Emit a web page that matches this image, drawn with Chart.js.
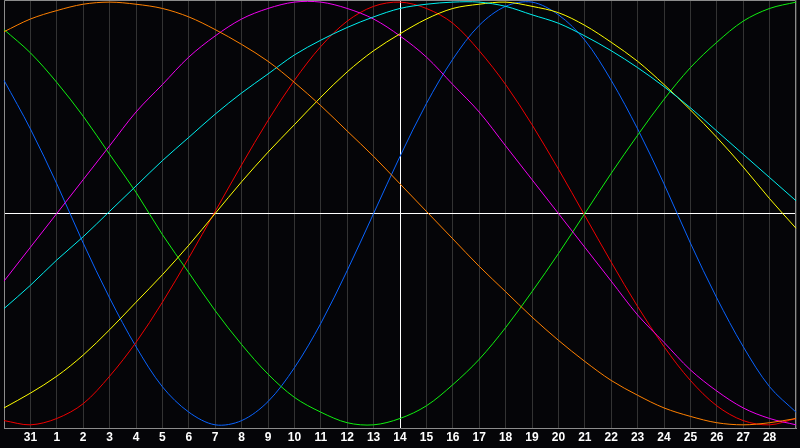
<!DOCTYPE html>
<html>
<head>
<meta charset="utf-8">
<script src="https://cdn.jsdelivr.net/npm/chart.js@4"></script>
<style>
  html, body { margin: 0; padding: 0; background: #050508; }
  canvas { display: block; }
</style>
</head>
<body>
<canvas id="myChart" width="800" height="448"></canvas>
<script>
// days shown on the x axis (first and last sit on the frame edges, unlabelled)
var days = ['30', '31', '1', '2', '3', '4', '5', '6', '7', '8', '9', '10', '11', '12', '13', '14',
            '15', '16', '17', '18', '19', '20', '21', '22', '23', '24', '25', '26', '27', '28', '29'];
var today = '14';

// cycle values in percent, one per day
var physical     = [63, 40, 14, -14, -40, -63, -82, -94, -100, -98, -89, -73, -52, -27, 0, 27, 52, 73, 89, 98, 100, 94, 82, 63, 40, 14, -14, -40, -63, -82, -94];
var emotional    = [-98, -100, -97, -90, -77, -61, -42, -21, 1, 23, 44, 63, 79, 91, 98, 100, 97, 90, 77, 61, 42, 21, -1, -23, -44, -63, -79, -91, -98, -100, -97];
var intellectual = [87, 76, 62, 46, 28, 10, -10, -28, -46, -62, -76, -87, -94, -99, -100, -97, -91, -81, -69, -54, -37, -19, 0, 19, 37, 54, 69, 81, 91, 97, 100];
var intuitive    = [-32, -16, 0, 16, 32, 48, 61, 74, 84, 92, 97, 100, 100, 97, 92, 84, 74, 61, 48, 32, 16, 0, -16, -32, -48, -61, -74, -84, -92, -97, -100];
var aesthetic    = [-92, -85, -77, -67, -55, -42, -29, -15, 0, 15, 29, 42, 55, 67, 77, 85, 92, 97, 99, 100, 98, 95, 89, 81, 72, 61, 49, 36, 22, 7, -7];
var awareness    = [86, 92, 96, 99, 100, 99, 97, 93, 87, 80, 72, 62, 51, 39, 27, 14, 1, -12, -25, -37, -49, -60, -70, -79, -86, -92, -96, -99, -100, -99, -97];
var spiritual    = [-45, -34, -22, -11, 1, 13, 25, 36, 47, 57, 66, 75, 82, 88, 93, 97, 99, 100, 100, 98, 94, 90, 84, 77, 69, 60, 50, 39, 28, 17, 6];

function line(data, color) {
    return {
        data: data,
        borderColor: color,
        borderWidth: 1,
        pointRadius: 0,
        tension: 0.33,
        fill: false
    };
}

// white zero line, white "today" line and grey frame
var frame = {
    id: 'frame',
    beforeDatasetsDraw: function (chart) {
        var c = chart.ctx, a = chart.chartArea;
        var y0 = Math.round(chart.scales.y.getPixelForValue(0)) + 0.5;
        var xt = Math.round(chart.scales.x.getPixelForValue(days.indexOf(today))) + 0.5;
        c.save();
        c.strokeStyle = '#ffffff';
        c.lineWidth = 1;
        c.beginPath();
        c.moveTo(a.left, y0); c.lineTo(a.right, y0);
        c.moveTo(xt, a.top); c.lineTo(xt, a.bottom);
        c.stroke();
        c.strokeStyle = '#8c8c8c';
        c.beginPath();
        c.moveTo(a.left + 0.5, a.bottom); c.lineTo(a.left + 0.5, a.top + 0.5);
        c.lineTo(a.right - 0.5, a.top + 0.5); c.lineTo(a.right - 0.5, a.bottom);
        c.stroke();
        c.restore();
    }
};

var ctx = document.getElementById('myChart').getContext('2d');
new Chart(ctx, {
    type: 'line',
    data: {
        labels: days,
        datasets: [
            line(awareness, '#ff8000'),
            line(spiritual, '#00f0f0'),
            line(aesthetic, '#ffff00'),
            line(intuitive, '#f000f0'),
            line(intellectual, '#10f010'),
            line(emotional, '#f00000'),
            line(physical, '#0a64ff')
        ]
    },
    options: {
        responsive: false,
        devicePixelRatio: 1,
        animation: false,
        layout: { padding: 0 },
        plugins: {
            legend: { display: false },
            tooltip: { enabled: false }
        },
        scales: {
            x: {
                offset: false,
                grid: { color: '#333333', drawTicks: false },
                border: { color: '#8c8c8c' },
                ticks: {
                    autoSkip: false,
                    maxRotation: 0,
                    padding: 4,
                    color: '#ffffff',
                    font: { family: 'Liberation Sans', weight: 'bold', size: 12, lineHeight: 1 },
                    callback: function (v, i) {
                        return (i === 0 || i === days.length - 1) ? '' : days[i];
                    }
                }
            },
            y: {
                display: false,
                min: -101.5,
                max: 101
            }
        }
    },
    plugins: [frame]
});
</script>
</body>
</html>
